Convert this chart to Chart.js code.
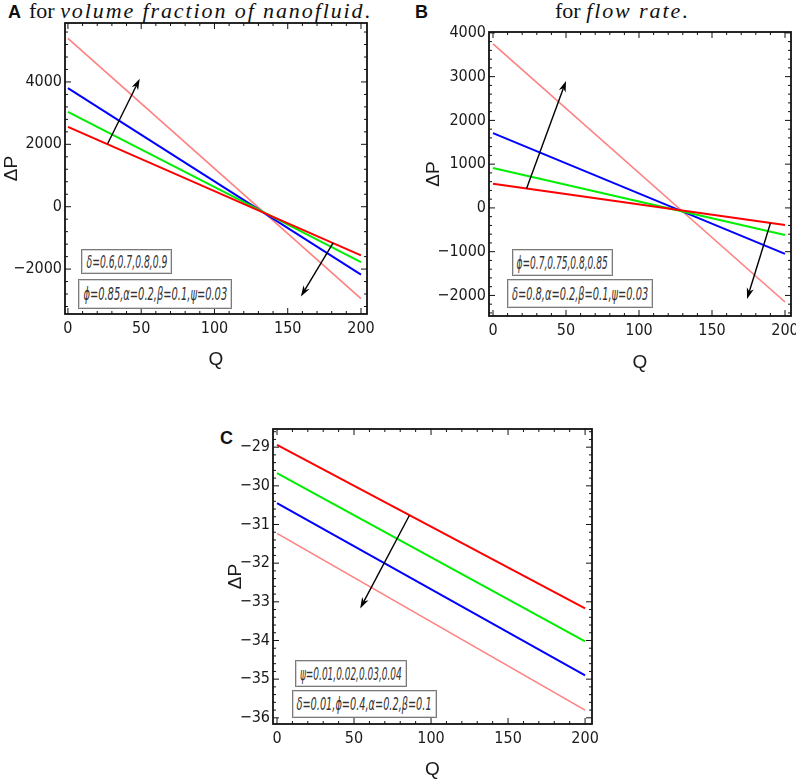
<!DOCTYPE html>
<html>
<head>
<meta charset="utf-8">
<script src="https://cdn.jsdelivr.net/npm/chart.js@4.4.0/dist/chart.umd.min.js"></script>
<style>
html, body { margin: 0; padding: 0; width: 796px; height: 779px; overflow: hidden; background: #fff; position: relative; }
canvas { position: absolute; }
.lbl { position: absolute; font: bold 18px 'Liberation Sans', Arial, sans-serif; line-height: 20px; color: #111; }
.ttl { position: absolute; font: 22px 'Liberation Serif', 'DejaVu Serif', serif; line-height: 24px; white-space: nowrap; color: #111; }
.ttl i { letter-spacing: 1.9px; }
.box { position: absolute; box-sizing: border-box; border: 1px solid #7a7a7a; box-shadow: inset 0 0 0 1px #d4d4d4;
  background: #fff; font: italic 17px 'DejaVu Sans Condensed', 'DejaVu Sans', sans-serif; color: #333;
  display: flex; align-items: center; justify-content: center; white-space: nowrap; overflow: visible; }
.box span { display: inline-block; transform-origin: center center; }
</style>
</head>
<body>
<span class="lbl" style="left:8px;top:2px">A</span>
<span class="ttl" style="left:29px;top:-1px">for <i>volume fraction of nanofluid</i>.</span>
<span class="lbl" style="left:415px;top:2px">B</span>
<span class="ttl" style="left:555px;top:-1px">for <i>flow rate</i>.</span>
<span class="lbl" style="left:220px;top:428px">C</span>

<canvas id="chartA" width="392" height="392" style="left:0;top:0"></canvas>
<canvas id="chartB" width="410" height="392" style="left:400px;top:0"></canvas>
<canvas id="chartC" width="420" height="400" style="left:190px;top:400px"></canvas>

<div class="box" style="left:81px;top:249px;width:91px;height:25px"><span>δ=0.6,0.7,0.8,0.9</span></div>
<div class="box" style="left:78px;top:279px;width:154px;height:30px"><span>ϕ=0.85,α=0.2,β=0.1,ψ=0.03</span></div>
<div class="box" style="left:512px;top:249px;width:101px;height:27px"><span>ϕ=0.7,0.75,0.8,0.85</span></div>
<div class="box" style="left:507px;top:279px;width:146px;height:29px"><span>δ=0.8,α=0.2,β=0.1,ψ=0.03</span></div>
<div class="box" style="left:295px;top:660px;width:112px;height:27px"><span>ψ=0.01,0.02,0.03,0.04</span></div>
<div class="box" style="left:292px;top:690px;width:145px;height:28px"><span>δ=0.01,ϕ=0.4,α=0.2,β=0.1</span></div>

<script>
// flow rate Q (lines are straight, end points)
const qValues = [0, 200];

// panel A: delta = 0.6, 0.7, 0.8, 0.9
const dpA_d06 = [2560, -1560];
const dpA_d07 = [3040, -1780];
const dpA_d08 = [3800, -2180];
const dpA_d09 = [5400, -2950];

// panel B: phi = 0.7, 0.75, 0.8, 0.85
const dpB_p070 = [550, -390];
const dpB_p075 = [910, -620];
const dpB_p080 = [1710, -1050];
const dpB_p085 = [3750, -2150];

// panel C: psi = 0.01, 0.02, 0.03, 0.04
const dpC_s001 = [-28.94, -33.17];
const dpC_s002 = [-29.67, -34.02];
const dpC_s003 = [-30.45, -34.90];
const dpC_s004 = [-31.23, -35.80];

const xTicks = [0, 50, 100, 150, 200];
const yTicksA = [-2000, 0, 2000, 4000];
const yTicksB = [-2000, -1000, 0, 1000, 2000, 3000, 4000];
const yTicksC = [-36, -35, -34, -33, -32, -31, -30, -29];

// arrows: [qFrom, dpFrom, qTo, dpTo]
const arrowsA = [[27, 2010, 49, 4100], [181, -1160, 159, -2880]];
const arrowsB = [[23, 445, 50, 2900], [190, -350, 174, -2080]];
const arrowsC = [[86, -30.76, 54, -33.17]];

const colors = ['#ff0000', '#00ee00', '#0000ff', '#ff8080'];
const tickFont = { family: "'DejaVu Sans Condensed', 'Liberation Sans', sans-serif", size: 16 };
const titleFont = { family: "'Liberation Sans', Arial, sans-serif", size: 19 };

const toPairs = ys => qValues.map((q, i) => ({ x: q, y: ys[i] }));
const minus = v => String(v).replace('-', '\u2212');

// squeeze the label texts so they fit their boxes like the narrow font of the original
document.querySelectorAll('.box span').forEach(sp => {
  const boxW = sp.parentElement.clientWidth - 8;
  const w = sp.offsetWidth;
  if (w > boxW) sp.style.transform = `scaleX(${(boxW / w).toFixed(3)})`;
});

const framePlugin = {
  id: 'frame',
  afterDatasetsDraw(chart, args, opts) {
    const { ctx, chartArea: a, scales: { x, y } } = chart;
    ctx.save();
    ctx.strokeStyle = '#111';
    ctx.lineWidth = 1;
    const tick = (px, len, horiz) => {
      ctx.beginPath();
      if (horiz) {
        ctx.moveTo(px, a.bottom); ctx.lineTo(px, a.bottom - len);
        ctx.moveTo(px, a.top); ctx.lineTo(px, a.top + len);
      } else {
        ctx.moveTo(a.left, px); ctx.lineTo(a.left + len, px);
        ctx.moveTo(a.right, px); ctx.lineTo(a.right - len, px);
      }
      ctx.stroke();
    };
    for (let v = 0; v <= 200; v += 10) tick(x.getPixelForValue(v), v % 50 === 0 ? 6 : 3, true);
    const step = opts.yMinor;
    const start = Math.ceil(y.min / step) * step;
    for (let v = start; v <= y.max; v += step) {
      const major = opts.yMajor.some(t => Math.abs(t - v) < step / 10);
      tick(y.getPixelForValue(v), major ? 6 : 3, false);
    }
    ctx.lineWidth = 1.8;
    ctx.strokeRect(a.left, a.top, a.right - a.left, a.bottom - a.top);
    ctx.fillStyle = '#000';
    ctx.strokeStyle = '#000';
    ctx.lineWidth = 1.4;
    opts.arrows.forEach(([q1, p1, q2, p2]) => {
      const x1 = x.getPixelForValue(q1), y1 = y.getPixelForValue(p1);
      const x2 = x.getPixelForValue(q2), y2 = y.getPixelForValue(p2);
      const ang = Math.atan2(y2 - y1, x2 - x1), c = Math.cos(ang), s = Math.sin(ang);
      const hl = 11, hw = 3.6;
      ctx.beginPath();
      ctx.moveTo(x1, y1);
      ctx.lineTo(x2 - hl * 0.7 * c, y2 - hl * 0.7 * s);
      ctx.stroke();
      ctx.beginPath();
      ctx.moveTo(x2, y2);
      ctx.lineTo(x2 - hl * c - hw * s, y2 - hl * s + hw * c);
      ctx.lineTo(x2 - hl * 0.7 * c, y2 - hl * 0.7 * s);
      ctx.lineTo(x2 - hl * c + hw * s, y2 - hl * s - hw * c);
      ctx.closePath();
      ctx.fill();
    });
    ctx.restore();
  }
};

function makeChart(id, series, p) {
  return new Chart(document.getElementById(id), {
    type: 'line',
    data: {
      datasets: series.map((ys, i) => ({
        data: toPairs(ys),
        borderColor: colors[i],
        borderWidth: i === 3 ? 1.6 : 2,
        pointRadius: 0,
        fill: false,
        tension: 0
      }))
    },
    options: {
      responsive: false,
      animation: false,
      layout: { padding: p.padding },
      plugins: {
        legend: { display: false },
        tooltip: { enabled: false },
        frame: { yMajor: p.yTicks, yMinor: p.yMinor, arrows: p.arrows }
      },
      scales: {
        x: {
          type: 'linear', min: p.xMin, max: p.xMax,
          grid: { display: false, drawTicks: false },
          border: { display: false },
          afterBuildTicks: s => { s.ticks = xTicks.map(v => ({ value: v })); },
          afterFit: s => { s.height = p.xHeight; },
          ticks: { font: tickFont, color: '#1a1a1a', padding: 5, maxRotation: 0, callback: minus },
          title: { display: true, text: 'Q', font: titleFont, color: '#1a1a1a', padding: { top: 0, bottom: p.qPad } }
        },
        y: {
          type: 'linear', min: p.yMin, max: p.yMax,
          grid: { display: false, drawTicks: false },
          border: { display: false },
          afterBuildTicks: s => { s.ticks = p.yTicks.map(v => ({ value: v })); },
          afterFit: s => { s.width = p.yWidth; },
          ticks: { font: tickFont, color: '#1a1a1a', padding: 3, callback: minus },
          title: { display: true, text: 'ΔP', font: titleFont, color: '#1a1a1a', padding: { top: p.dpPad, bottom: 0 } }
        }
      }
    },
    plugins: [framePlugin]
  });
}

makeChart('chartA', [dpA_d06, dpA_d07, dpA_d08, dpA_d09], {
  padding: { left: 0, top: 23, right: 25, bottom: 0 },
  xMin: -2, xMax: 204.1, yMin: -3440, yMax: 5890,
  yTicks: yTicksA, yMinor: 400, arrows: arrowsA,
  xHeight: 78, yWidth: 65, qPad: 21, dpPad: 0
});

makeChart('chartB', [dpB_p070, dpB_p075, dpB_p080, dpB_p085], {
  padding: { left: 0, top: 32, right: 19, bottom: 0 },
  xMin: -2.74, xMax: 204.1, yMin: -2470, yMax: 4020,
  yTicks: yTicksB, yMinor: 200, arrows: arrowsB,
  xHeight: 76, yWidth: 89, qPad: 18, dpPad: 22
});

makeChart('chartC', [dpC_s001, dpC_s002, dpC_s003, dpC_s004], {
  padding: { left: 0, top: 29, right: 18, bottom: 0 },
  xMin: -2.6, xMax: 204.5, yMin: -36.16, yMax: -28.53,
  yTicks: yTicksC, yMinor: 0.2, arrows: arrowsC,
  xHeight: 76, yWidth: 83, qPad: 19, dpPad: 34
});
</script>
</body>
</html>
